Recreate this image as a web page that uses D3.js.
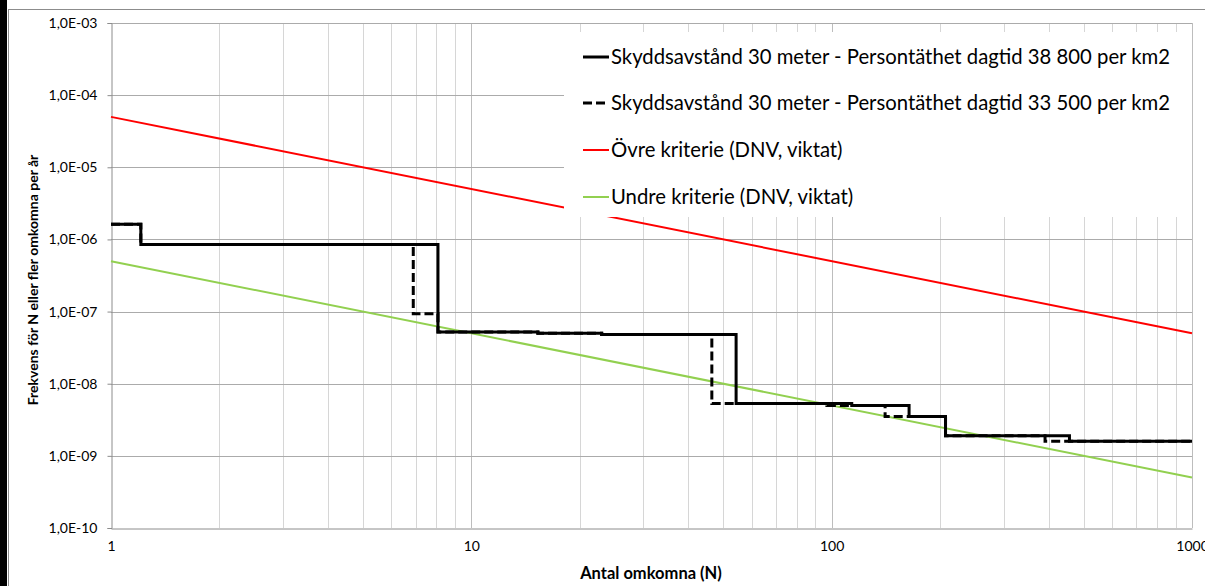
<!DOCTYPE html>
<html>
<head>
<meta charset="utf-8">
<script src="https://cdn.jsdelivr.net/npm/d3@7"></script>
<style>
  html, body { margin: 0; padding: 0; background: #fff; overflow: hidden; }
  text { font-family: Lato, "Open Sans", sans-serif; fill: #000; }
</style>
</head>
<body>
<div id="canvas"></div>
<script>
// Antal omkomna (N) and frekvens
const solidN = [1, 1.21, 8.08, 15.3, 23, 54.3, 113.7, 164, 207, 457, 1000];
const solidF = [1.62e-6, 8.5e-7, 5.2e-8, 5.0e-8, 4.8e-8, 5.3e-9, 5.0e-9, 3.5e-9, 1.9e-9, 1.6e-9, 1.6e-9];

const dashedN = [1, 1.21, 6.9, 8.08, 15.3, 23, 46.5, 54.3, 97, 140.7, 164, 207, 391, 1000];
const dashedF = [1.62e-6, 8.5e-7, 9.3e-8, 5.2e-8, 5.0e-8, 4.8e-8, 5.3e-9, 5.3e-9, 5.0e-9, 3.5e-9, 3.5e-9, 1.9e-9, 1.6e-9, 1.6e-9];

const upperN = [1, 1000];
const upperF = [5e-5, 5e-8];
const lowerN = [1, 1000];
const lowerF = [5e-7, 5e-10];

const yTicks = [1e-3, 1e-4, 1e-5, 1e-6, 1e-7, 1e-8, 1e-9, 1e-10];
const yTickLabels = ["1,0E-03", "1,0E-04", "1,0E-05", "1,0E-06", "1,0E-07", "1,0E-08", "1,0E-09", "1,0E-10"];
const xTicks = [1, 10, 100, 1000];
const xTickLabels = ["1", "10", "100", "1000"];

const legendLabels = [
  "Skyddsavstånd 30 meter - Persontäthet dagtid 38 800 per km2",
  "Skyddsavstånd 30 meter - Persontäthet dagtid 33 500 per km2",
  "Övre kriterie (DNV, viktat)",
  "Undre kriterie (DNV, viktat)"
];

function drawChart() {
  const width = 1205;
  const height = 586;
  const plot = { left: 111, right: 1192, top: 23, bottom: 528 };

  const svg = d3.select("#canvas").append("svg")
    .attr("width", width)
    .attr("height", height);

  // screenshot edge + chart frame
  svg.append("rect").attr("x", 0).attr("y", 0).attr("width", 7).attr("height", height).attr("fill", "#000");
  svg.append("rect").attr("x", 8.5).attr("y", 9.5).attr("width", width + 10).attr("height", height + 10)
    .attr("fill", "#fff").attr("stroke", "#8c8c8c");

  const x = d3.scaleLog().domain([1, 1000]).range([plot.left, plot.right]);
  const y = d3.scaleLog().domain([1e-10, 1e-3]).range([plot.bottom, plot.top]);

  const g = svg.append("g");

  // vertical grid (minor + major)
  const xGrid = x.ticks().filter((d) => d > 1);
  g.selectAll(".vgrid").data(xGrid).enter().append("line")
    .attr("x1", (d) => Math.round(x(d)) + 0.5)
    .attr("x2", (d) => Math.round(x(d)) + 0.5)
    .attr("y1", plot.top)
    .attr("y2", plot.bottom)
    .attr("stroke", (d) => (xTicks.includes(d) ? "#bdbdbd" : "#d6d6d6"))
    .attr("stroke-width", 1);

  // horizontal grid
  g.selectAll(".hgrid").data(yTicks.slice(0, -1)).enter().append("line")
    .attr("x1", plot.left)
    .attr("x2", plot.right)
    .attr("y1", (d) => Math.round(y(d)) + 0.5)
    .attr("y2", (d) => Math.round(y(d)) + 0.5)
    .attr("stroke", "#ababab");

  // axes
  const yAxis = g.append("g")
    .attr("transform", `translate(${plot.left + 0.5},0)`)
    .call(d3.axisLeft(y).tickValues(yTicks).tickFormat((d, i) => yTickLabels[i]).tickSize(4).tickPadding(10));
  yAxis.select(".domain").attr("stroke", "#8c8c8c");
  yAxis.selectAll(".tick line").attr("stroke", "#8c8c8c");
  yAxis.selectAll(".tick text").style("font-size", "14px").style("font-family", "Lato, sans-serif");

  const xAxis = g.append("g")
    .attr("transform", `translate(0,${plot.bottom + 0.5})`)
    .call(d3.axisBottom(x).tickValues(xTicks).tickFormat((d, i) => xTickLabels[i]).tickSize(0).tickPadding(13));
  xAxis.select(".domain").attr("stroke", "#8c8c8c");
  xAxis.selectAll(".tick text").style("font-size", "14px").style("font-family", "Lato, sans-serif");

  const line = d3.line().x((d) => x(d[0])).y((d) => y(d[1]));
  const step = d3.line().x((d) => x(d[0])).y((d) => y(d[1])).curve(d3.curveStepAfter);

  g.append("path").datum(d3.zip(lowerN, lowerF)).attr("d", line)
    .attr("fill", "none").attr("stroke", "#92d050").attr("stroke-width", 2);
  g.append("path").datum(d3.zip(upperN, upperF)).attr("d", line)
    .attr("fill", "none").attr("stroke", "#ff0000").attr("stroke-width", 2);

  g.append("path").datum(d3.zip(solidN, solidF)).attr("d", step)
    .attr("fill", "none").attr("stroke", "#000").attr("stroke-width", 3);
  g.append("path").datum(d3.zip(dashedN, dashedF)).attr("d", step)
    .attr("fill", "none").attr("stroke", "#000").attr("stroke-width", 3)
    .attr("stroke-dasharray", "9,4");

  // legend
  const leg = svg.append("g");
  leg.append("rect").attr("x", 564).attr("y", 32).attr("width", plot.right - 564).attr("height", 185).attr("fill", "#fff");
  const styles = [
    { color: "#000", w: 3, dash: null },
    { color: "#000", w: 3, dash: "9,4" },
    { color: "#ff0000", w: 2, dash: null },
    { color: "#92d050", w: 2, dash: null }
  ];
  const rows = [57, 103, 150, 197];
  legendLabels.forEach((t, i) => {
    leg.append("line").attr("x1", 583).attr("x2", 609).attr("y1", rows[i]).attr("y2", rows[i])
      .attr("stroke", styles[i].color).attr("stroke-width", styles[i].w)
      .attr("stroke-dasharray", styles[i].dash);
    leg.append("text").attr("x", 611).attr("y", rows[i]).attr("dy", "0.35em")
      .style("font-size", "20.3px").text(t);
  });

  // axis titles
  svg.append("text").attr("x", 651).attr("y", 573).attr("dy", "0.35em").attr("text-anchor", "middle")
    .style("font-size", "16.5px").style("font-weight", "bold").text("Antal omkomna (N)");
  svg.append("text").attr("transform", "translate(33,280) rotate(-90)").attr("text-anchor", "middle")
    .attr("dy", "0.35em")
    .style("font-size", "14px").style("font-weight", "bold").text("Frekvens för N eller fler omkomna per år");
}

drawChart();
</script>
</body>
</html>
